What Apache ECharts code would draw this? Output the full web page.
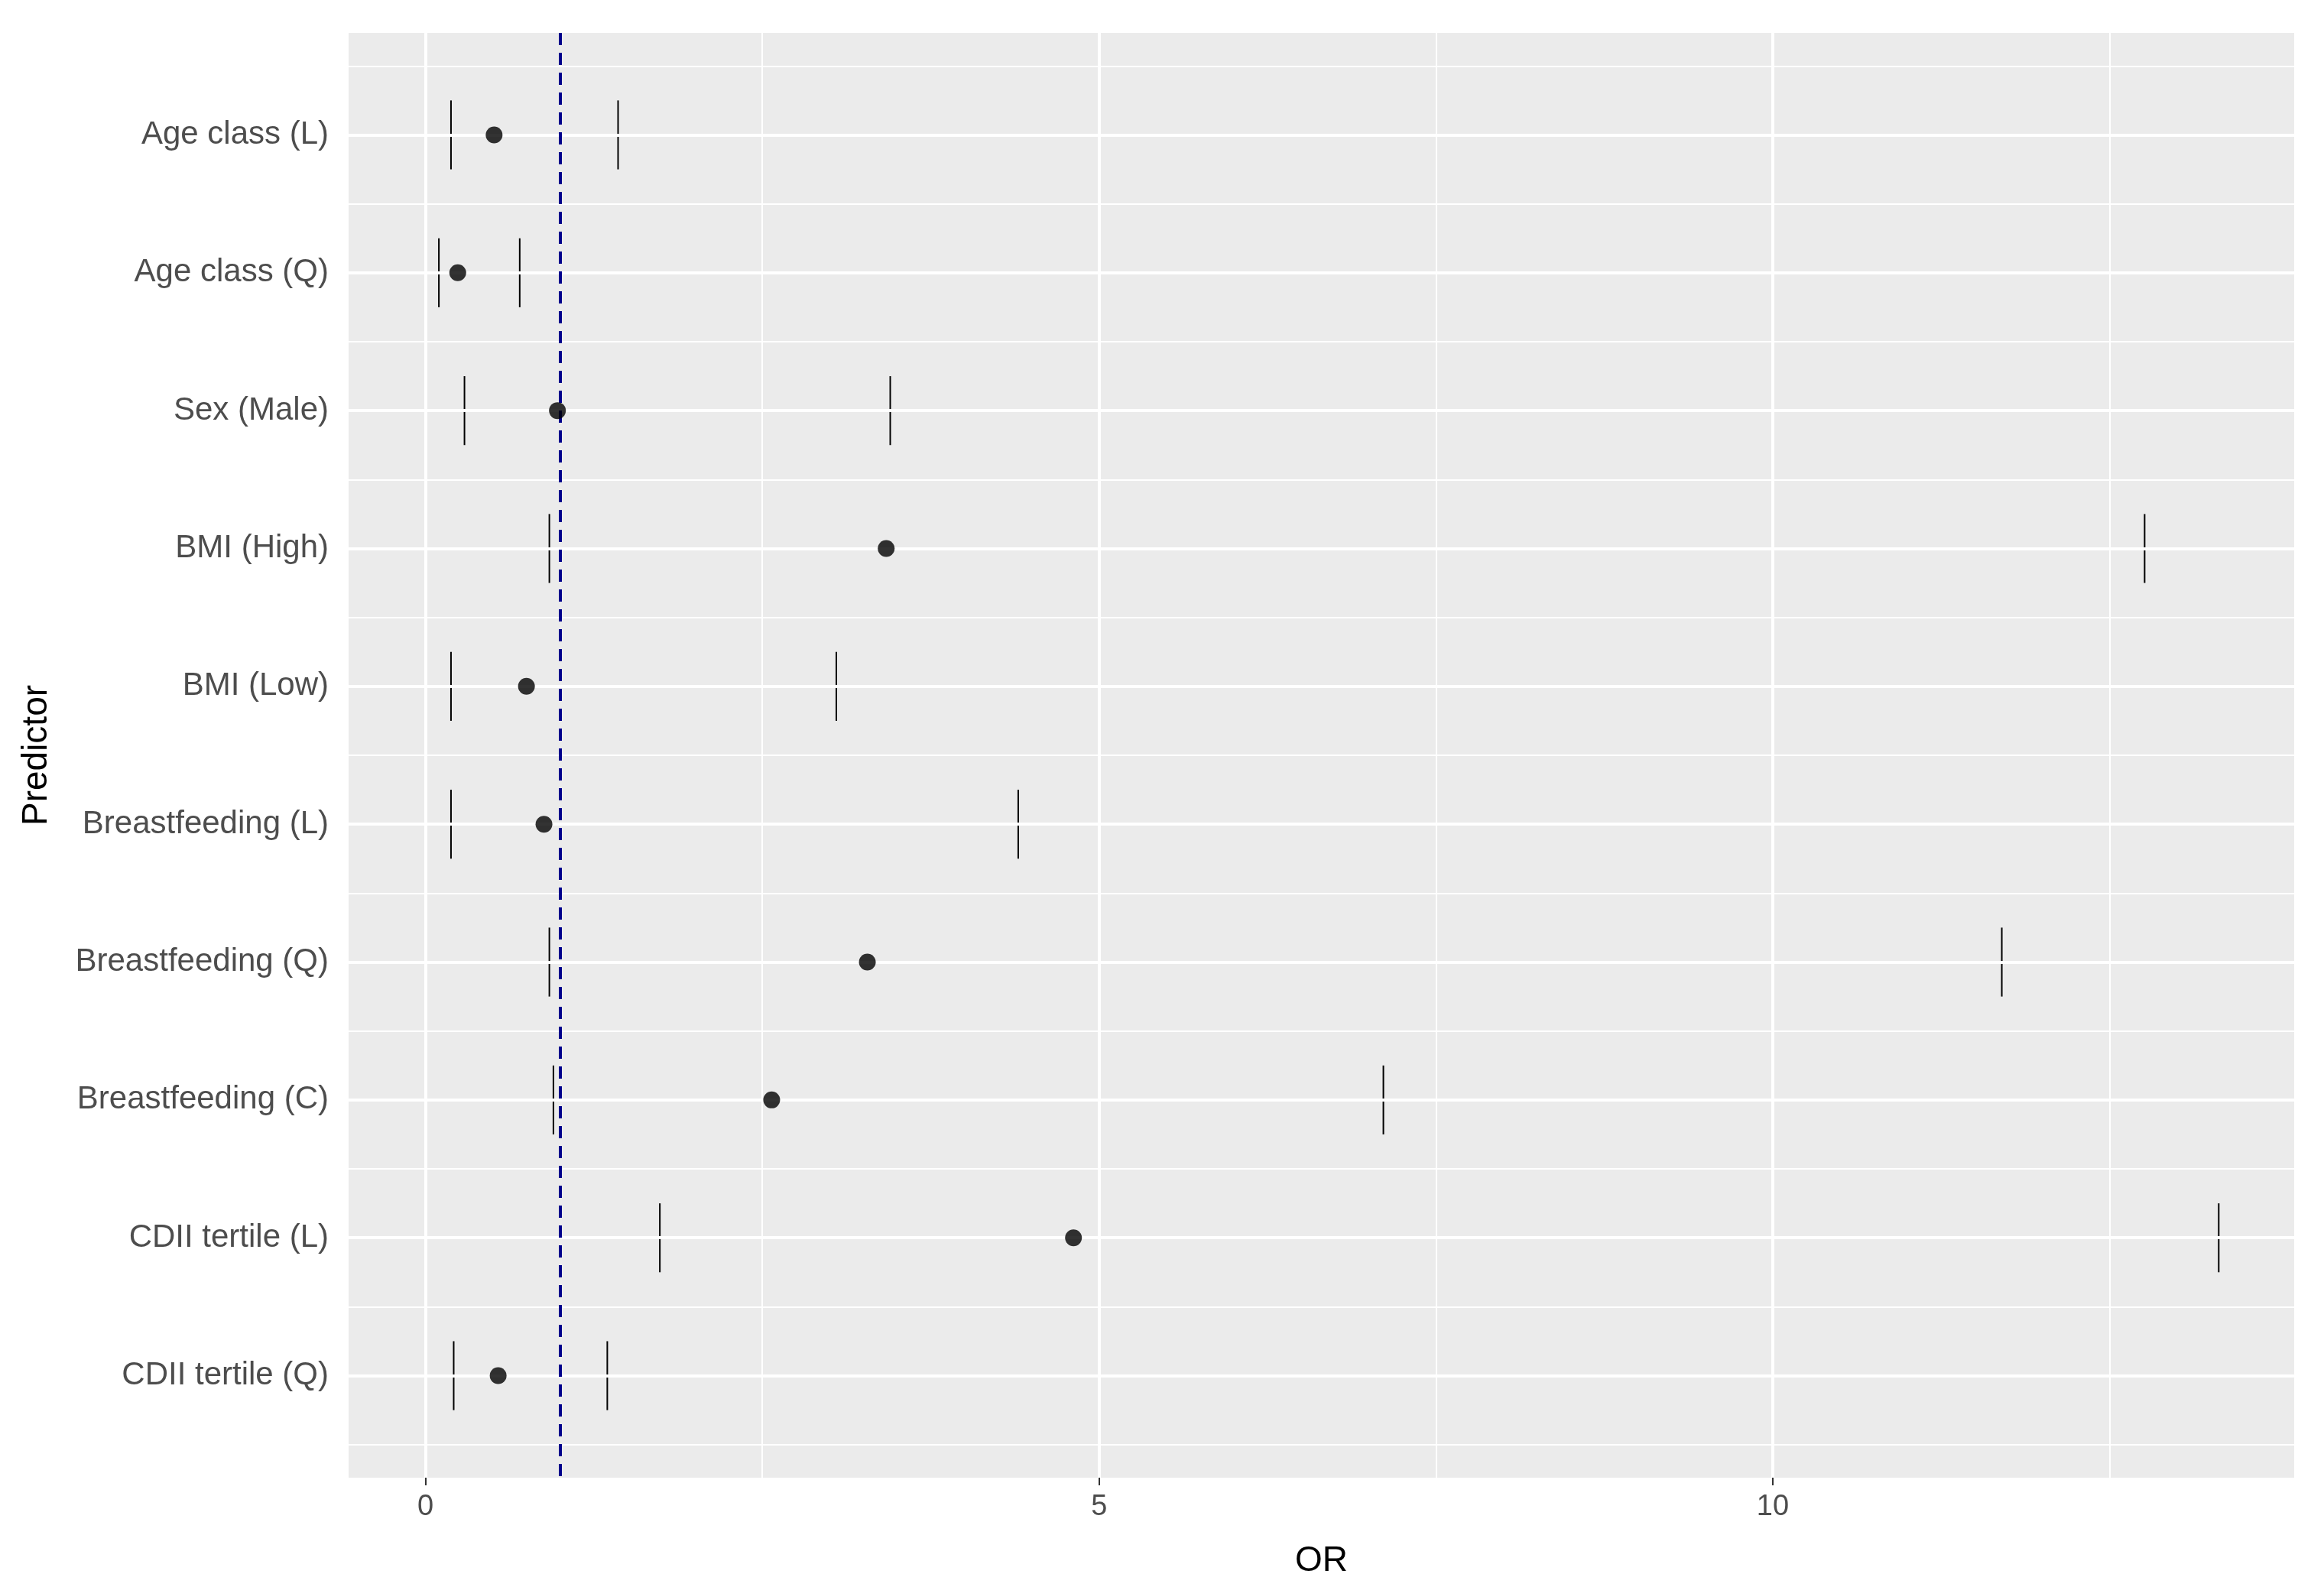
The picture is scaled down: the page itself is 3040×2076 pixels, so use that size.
<!DOCTYPE html>
<html><head><meta charset="utf-8">
<script src="https://cdn.jsdelivr.net/npm/echarts@6/dist/echarts.min.js"></script>
<style>html,body{margin:0;padding:0;background:#fff}#c{width:3040px;height:2076px}</style>
</head><body><div id="c"></div>
<script>
const predictors = ["Age class (L)","Age class (Q)","Sex (Male)","BMI (High)","BMI (Low)","Breastfeeding (L)","Breastfeeding (Q)","Breastfeeding (C)","CDII tertile (L)","CDII tertile (Q)"];
const orValues = [0.51,0.24,0.98,3.42,0.75,0.88,3.28,2.57,4.81,0.54];
const lowerCI = [0.19,0.10,0.29,0.92,0.19,0.19,0.92,0.95,1.74,0.21];
const upperCI = [1.43,0.70,3.45,12.76,3.05,4.40,11.70,7.11,13.31,1.35];
const xTicks = [0,5,10];
const refLine = 1;

const chart = echarts.init(document.getElementById('c'));
const rows = predictors.map((p,i)=>i+1);
const majorY = rows.map(r=>({yAxis:r}));
const minorY = []; for(let r=0.5;r<=10.5;r+=1) minorY.push({yAxis:r});
const majorX = xTicks.map(v=>({xAxis:v}));
const minorX = [2.5,7.5,12.5].map(v=>({xAxis:v}));
const gl = (w)=>({color:'#fff',width:w,type:'solid'});
chart.setOption({
  animation:false,
  grid:{left:456,right:39,top:43,bottom:143,show:true,backgroundColor:'#ebebeb',borderWidth:0},
  xAxis:{type:'value',min:-0.57,max:13.87,name:'OR',nameLocation:'middle',nameGap:86,
    nameTextStyle:{fontSize:46,color:'#000',fontFamily:'Liberation Sans'},
    axisLine:{show:false},splitLine:{show:false},
    axisTick:{show:true,customValues:xTicks,length:10,lineStyle:{color:'#333',width:2}},
    axisLabel:{customValues:xTicks,fontSize:38,color:'#4d4d4d',margin:20,fontFamily:'Liberation Sans'}},
  yAxis:{type:'value',min:0.26,max:10.74,inverse:true,name:'Predictor',nameLocation:'middle',nameGap:385,
    nameTextStyle:{fontSize:46,color:'#000',fontFamily:'Liberation Sans'},
    axisLine:{show:false},splitLine:{show:false},
    axisTick:{show:true,customValues:rows,length:10,lineStyle:{color:'#333',width:2}},
    axisLabel:{customValues:rows,fontSize:42,color:'#4d4d4d',margin:26,fontFamily:'Liberation Sans',
      formatter:v=>predictors[Math.round(v)-1]||''}},
  series:[
    {type:'line',data:[],silent:true,z:0,markLine:{silent:true,symbol:'none',label:{show:false},animation:false,
      data:[...minorY.map(d=>({...d,lineStyle:gl(2)})),...minorX.map(d=>({...d,lineStyle:gl(2)})),
            ...majorY.map(d=>({...d,lineStyle:gl(4)})),...majorX.map(d=>({...d,lineStyle:gl(4)}))]}},
    {type:'line',data:[],silent:true,z:3,markLine:{silent:true,symbol:'none',label:{show:false},
      lineStyle:{color:'#00008b',width:4,type:[16,10]},data:[{xAxis:refLine}]}},
    {type:'custom',silent:true,z:4,data:predictors.map((p,i)=>[lowerCI[i],upperCI[i],i+1]),
      renderItem:(params,api)=>{
        const a=api.coord([api.value(0),api.value(2)]);
        const b=api.coord([api.value(1),api.value(2)]);
        const h=api.size([0,0.25])[1];
        const st={fill:'#000'};
        return {type:'group',children:[
          {type:'rect',shape:{x:a[0],y:a[1]-1,width:b[0]-a[0],height:2},style:st},
          {type:'rect',shape:{x:a[0]-1,y:a[1]-h,width:2,height:2*h},style:st},
          {type:'rect',shape:{x:b[0]-1,y:b[1]-h,width:2,height:2*h},style:st}]};
      }},
    {type:'scatter',symbolSize:22,z:5,itemStyle:{color:'#000'},data:predictors.map((p,i)=>[orValues[i],i+1])}
  ]
});
</script></body></html>
